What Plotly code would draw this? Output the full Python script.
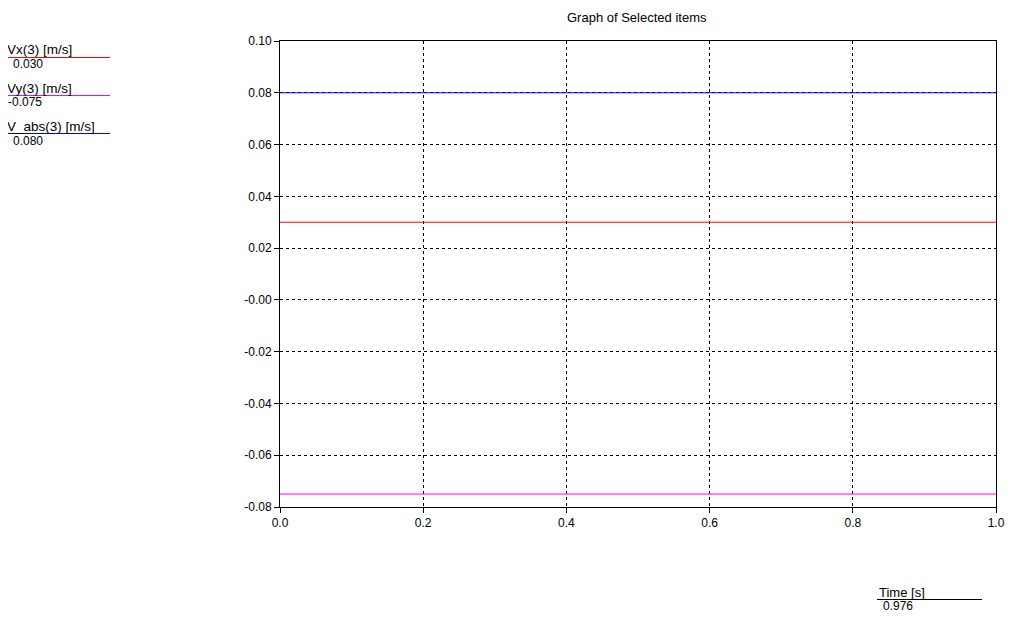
import plotly.graph_objects as go

# ---- data ----
time_s = [0.0, 0.976, 1.0]
vx = [0.030, 0.030, 0.030]
vy = [-0.075, -0.075, -0.075]
v_abs = [0.080, 0.080, 0.080]

series_names = ["Vx(3) [m/s]", "Vy(3) [m/s]", "V_abs(3) [m/s]"]
series_values = [vx, vy, v_abs]
series_readout = ["0.030", "-0.075", "0.080"]
series_colors = ["#ff0000", "#ff00ff", "#0000ff"]

y_tickvals = [0.10, 0.08, 0.06, 0.04, 0.02, 0.0, -0.02, -0.04, -0.06, -0.08]
y_ticktext = ["0.10", "0.08", "0.06", "0.04", "0.02", "-0.00", "-0.02", "-0.04", "-0.06", "-0.08"]
x_tickvals = [0.0, 0.2, 0.4, 0.6, 0.8, 1.0]
x_ticktext = ["0.0", "0.2", "0.4", "0.6", "0.8", "1.0"]

OFF = 8  # page body margin
W, H = 1033 - OFF, 618 - OFF
L, R, T, B = 280 - OFF, 996 - OFF, 41 - OFF, 507 - OFF

def px(x):
    return (x - OFF - L) / (R - L)

def py(y):
    return (B - (y - OFF)) / (B - T)

FONT = "Liberation Sans, Arial, sans-serif"

fig = go.Figure()
for name, vals, col in zip(series_names, series_values, series_colors):
    fig.add_trace(go.Scatter(x=time_s, y=vals, mode="lines", name=name,
                             line=dict(color=col, width=1), showlegend=False))

fig.update_layout(
    width=W, height=H,
    margin=dict(l=L, r=W - R, t=T, b=H - B),
    paper_bgcolor="white", plot_bgcolor="white",
    font=dict(family=FONT, size=12, color="black"),
)
axis_common = dict(showline=True, linecolor="black", linewidth=1, mirror=True,
                   ticks="outside", ticklen=5, tickcolor="black",
                   showgrid=True, gridcolor="black", gridwidth=1, griddash="3px,3px",
                   zeroline=False, tickfont=dict(family=FONT, size=12, color="black"))
fig.update_xaxes(range=[0, 1], tickvals=x_tickvals, ticktext=x_ticktext, **axis_common)
fig.update_yaxes(range=[-0.08, 0.10], tickvals=y_tickvals, ticktext=y_ticktext, **axis_common)

ann = []
shapes = []
ann.append(dict(text="Graph of Selected items", x=px(637), y=py(17), xref="paper", yref="paper",
                showarrow=False, xanchor="center", yanchor="middle", font=dict(size=13)))

label_y = [49, 88, 126]
value_y = [64, 102, 141]
line_y = [57.5, 95.5, 133.5]
value_x = [11, 6, 11]
for name, rd, col, ly, vy_, lny, vx_ in zip(series_names, series_readout, series_colors,
                                             label_y, value_y, line_y, value_x):
    ann.append(dict(text=name, x=px(5), y=py(ly), xref="paper", yref="paper", showarrow=False,
                    xanchor="left", yanchor="middle", font=dict(size=13.5)))
    ann.append(dict(text=rd, x=px(vx_), y=py(vy_), xref="paper", yref="paper", showarrow=False,
                    xanchor="left", yanchor="middle", font=dict(size=12)))
    shapes.append(dict(type="line", xref="paper", yref="paper", x0=px(5), x1=px(110),
                       y0=py(lny), y1=py(lny), line=dict(color=col, width=1)))

ann.append(dict(text="Time [s]", x=px(877), y=py(592), xref="paper", yref="paper", showarrow=False,
                xanchor="left", yanchor="middle", font=dict(size=13)))
ann.append(dict(text="0.976", x=px(881), y=py(606), xref="paper", yref="paper", showarrow=False,
                xanchor="left", yanchor="middle", font=dict(size=12)))
shapes.append(dict(type="line", xref="paper", yref="paper", x0=px(877), x1=px(982),
                   y0=py(599.5), y1=py(599.5), line=dict(color="black", width=1)))

fig.update_layout(annotations=ann, shapes=shapes)
fig.write_html("out.html")
